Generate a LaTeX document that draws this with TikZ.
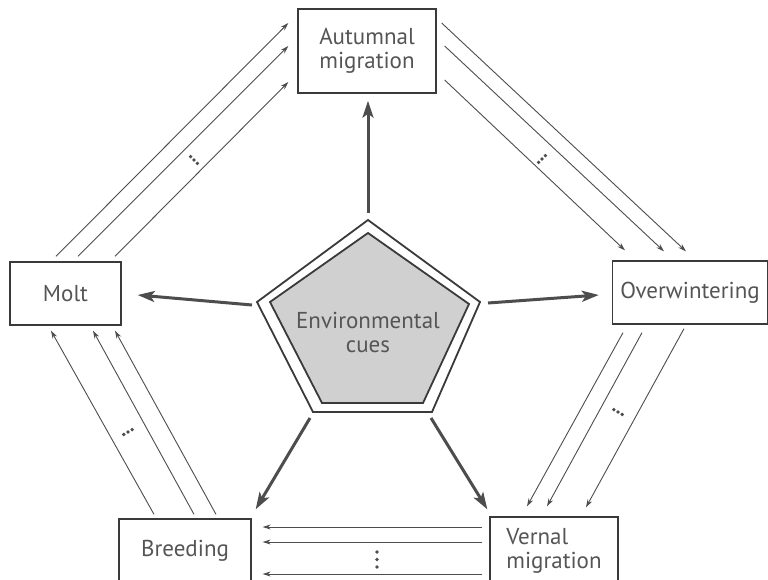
\documentclass[tikz,border=0pt]{standalone}
\usepackage{fontspec}
\setmainfont{PT Sans}
\usetikzlibrary{arrows.meta,calc}
\definecolor{boxc}{HTML}{3A3A3A}
\definecolor{arrc}{HTML}{4D4D4D}
\definecolor{txtc}{HTML}{555555}
\definecolor{pentc}{HTML}{D0D0D0}
\begin{document}
\begin{tikzpicture}[x=1pt,y=-1pt,
  box/.style={draw=boxc, line width=1.3pt, fill=white, text=txtc,
    font=\fontsize{23}{24}\selectfont, align=center, inner sep=0pt},
  thickarr/.style={draw=arrc, line width=3pt, -{Stealth[length=17pt,width=11pt,inset=4pt]}},
  thinarr/.style={draw=arrc, line width=0.9pt, -{Stealth[length=8pt,width=5pt]}},
  dotc/.style={fill=arrc, circle, inner sep=0pt, minimum size=3.8pt}]
\useasboundingbox (0,0) rectangle (768,580);
\fill[white] (0,0) rectangle (768,580);

% boxes
\node[box, minimum width=138pt, minimum height=84pt] (aut) at (367,51) {Autumnal\\migration};
\node[box, minimum width=111pt, minimum height=63pt] (molt) at (65.5,293.5) {Molt};
\node[box, minimum width=155pt, minimum height=63pt] (over) at (690,292.5) {Overwintering};
\node[box, minimum width=132pt, minimum height=64pt] (breed) at (185,551) {Breeding};
\node[box, minimum width=128pt, minimum height=68pt, align=left] (vern) at (554,551) {Vernal\\migration};

% pentagon
\draw[boxc, line width=1.8pt, fill=white] (368,220) -- (480,302) -- (432,412) -- (313,412) -- (257,302) -- cycle;
\draw[boxc, line width=1.8pt, fill=pentc] (368,233) -- (469,304) -- (423,403) -- (322,403) -- (270,302) -- cycle;
\node[text=txtc, font=\fontsize{23}{24}\selectfont, align=center] (env) at (368,332) {Environmental\\cues};

% thick arrows
\draw[thickarr] ($(env)+(0,-119)$) -- ($(aut.south)+(1,7)$);
\draw[thickarr] ($(env)+(-116,-27)$) -- ($(molt.east)+(16,1.5)$);
\draw[thickarr] ($(env)+(120,-29)$) -- ($(over.west)+(-13,2.5)$);
\draw[thickarr] ($(env)+(-58,86)$) -- ($(breed.north east)+(4,-9)$);
\draw[thickarr] ($(env)+(63,86)$) -- ($(vern.north west)+(-2,-7)$);

% Molt -> Autumnal
\draw[thinarr] ($(molt.north)+(-9.5,-5)$) -- ($(aut.west)+(-9,-28)$);
\draw[thinarr] ($(molt.north)+(12.5,-5)$) -- ($(aut.west)+(-9,-5)$);
\draw[thinarr] ($(molt.north)+(49.5,-5)$) -- ($(aut.west)+(-9,31)$);
\foreach \k in {-1,0,1} \node[dotc] at ($(194,160)+\k*(3.4,3.4)$) {};

% Autumnal -> Overwintering
\draw[thinarr] ($(aut.east)+(5,-28)$) -- ($(over.north)+(-4,-9)$);
\draw[thinarr] ($(aut.east)+(8,-5)$) -- ($(over.north)+(-26,-9)$);
\draw[thinarr] ($(aut.east)+(8,29)$) -- ($(over.north)+(-65,-10)$);
\foreach \k in {-1,0,1} \node[dotc] at ($(542,159)+\k*(3.4,-3.4)$) {};

% Overwintering -> Vernal
\draw[thinarr] ($(over.south)+(-67,8)$) -- ($(vern.north)+(-27,-10)$);
\draw[thinarr] ($(over.south)+(-48,8)$) -- ($(vern.north)+(-7,-10)$);
\draw[thinarr] ($(over.south)+(-6,4)$) -- ($(vern.north)+(32,-9)$);
\foreach \k in {-1,0,1} \node[dotc] at ($(618,412)+\k*(4.2,2.4)$) {};

% Vernal -> Breeding
\draw[thinarr] ($(vern.west)+(-7,-24)$) -- ($(breed.east)+(11,-24)$);
\draw[thinarr] ($(vern.west)+(-7,-9)$) -- ($(breed.east)+(11,-9)$);
\draw[thinarr] ($(vern.west)+(-7,23)$) -- ($(breed.east)+(11,23)$);
\foreach \k in {-1,0,1} \node[dotc] at ($(377,559.5)+\k*(0,7.5)$) {};

% Breeding -> Molt
\draw[thinarr] ($(breed.north)+(-31,-4)$) -- ($(molt.south)+(-14.5,5)$);
\draw[thinarr] ($(breed.north)+(9,-4)$) -- ($(molt.south)+(27.5,5)$);
\draw[thinarr] ($(breed.north)+(31,-4)$) -- ($(molt.south)+(49.5,5)$);
\foreach \k in {-1,0,1} \node[dotc] at ($(128,432)+\k*(4.2,-2.4)$) {};
\end{tikzpicture}
\end{document}
